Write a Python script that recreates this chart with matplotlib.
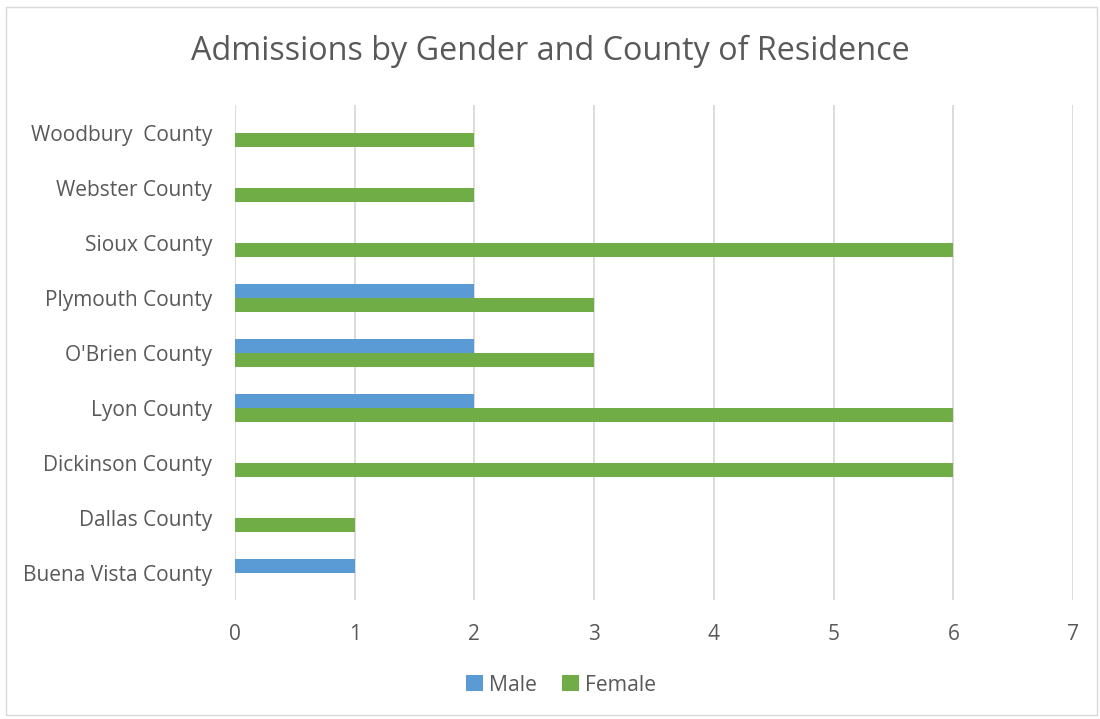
import numpy as np
import matplotlib.pyplot as plt
from matplotlib.patches import Rectangle

# data (bottom to top)
counties = ["Buena Vista County", "Dallas County", "Dickinson County", "Lyon County",
            "O'Brien County", "Plymouth County", "Sioux County", "Webster County",
            "Woodbury  County"]
male = [1, 0, 0, 2, 2, 2, 0, 0, 0]
female = [0, 1, 6, 6, 3, 3, 6, 2, 2]

plt.rcParams['font.family'] = ['Open Sans', 'DejaVu Sans']
txt = '#595959'

fig = plt.figure(figsize=(11, 7.19), dpi=100)
ax = fig.add_axes([0.2136, 0.1655, 0.7619, 0.6878])

y = np.arange(len(counties))
h = 0.255
ax.barh(y + h / 2, male, height=h, color='#5B9BD5', label='Male', zorder=3)
ax.barh(y - h / 2, female, height=h, color='#70AD47', label='Female', zorder=3)

ax.set_xlim(0, 7)
ax.set_ylim(-0.5, len(counties) - 0.5)
ax.set_xticks(range(8))
ax.set_yticks(y)
ax.set_yticklabels(counties)
ax.grid(axis='x', color='#D9D9D9', linewidth=1.3, zorder=0)
for s in ax.spines.values():
    s.set_visible(False)
ax.tick_params(length=0, labelsize=15, colors=txt)
ax.tick_params(axis='x', pad=17.5)
ax.tick_params(axis='y', pad=16.5)

fig.text(0.5, 0.928, 'Admissions by Gender and County of Residence',
         ha='center', va='center', fontsize=23.3, color=txt)

fig.legend(loc='center', bbox_to_anchor=(0.51, 0.047), ncol=2, frameon=False,
           fontsize=15.2, labelcolor=txt, handlelength=0.8, handleheight=0.8,
           handletextpad=0.3, columnspacing=1.2)

fig.patches.append(Rectangle((0.005, 0.005), 0.992, 0.985, transform=fig.transFigure,
                             fill=False, edgecolor='#D9D9D9', linewidth=1))

fig.savefig('out.png', dpi=100)
